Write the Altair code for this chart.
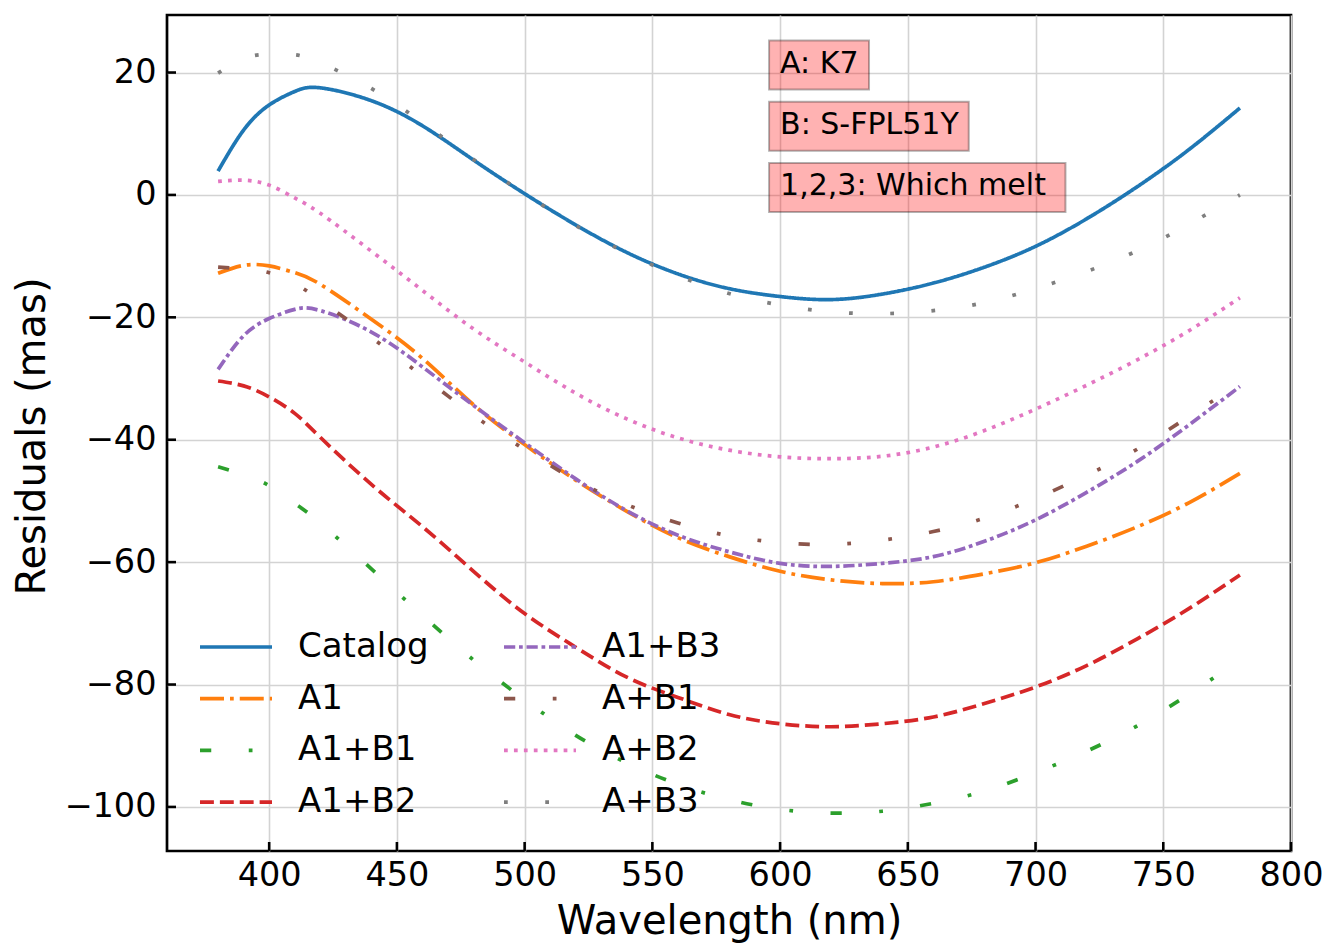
import altair as alt
import pandas as pd

# ---------------- data ----------------
wavelength = [380, 390, 400, 410, 420, 440, 460, 480, 500, 520, 540, 560,
              580, 600, 620, 640, 660, 680, 700, 720, 740, 760, 780]

catalog = [3.9, 10.6, 14.7, 16.9, 17.5, 15.4, 11.3, 5.7, 0.2, -4.9, -9.4, -12.9,
           -15.3, -16.6, -17.1, -16.2, -14.4, -11.8, -8.4, -3.9, 1.4, 7.4, 14.2]
a1 = [-12.8, -11.5, -11.6, -12.7, -14.6, -20.3, -26.7, -34.3, -40.8, -46.6, -51.7, -56.0,
      -59.1, -61.5, -62.9, -63.5, -63.2, -61.9, -60.1, -57.4, -54.2, -50.3, -45.5]
a1_b1 = [-44.4, -45.7, -47.5, -50.4, -53.6, -61.1, -68.7, -76.0, -82.5, -88.3, -92.8, -96.3,
         -98.8, -100.4, -101.0, -100.7, -99.4, -97.4, -94.4, -90.9, -86.7, -81.6, -76.0]
a1_b2 = [-30.4, -31.2, -33.0, -35.7, -39.6, -47.3, -54.2, -61.5, -68.4, -73.9, -78.8, -82.1,
         -84.9, -86.4, -86.9, -86.4, -85.3, -83.1, -80.4, -76.9, -72.5, -67.6, -62.1]
a1_b3 = [-28.5, -23.0, -20.2, -18.7, -18.9, -22.4, -28.1, -34.4, -40.5, -46.4, -51.6, -55.6,
         -58.3, -60.2, -60.7, -60.2, -59.1, -56.6, -53.1, -48.6, -43.5, -37.6, -31.3]
a_b1 = [-11.8, -12.1, -12.7, -14.5, -17.2, -23.3, -29.6, -36.0, -41.6, -46.6, -50.6, -53.6,
        -55.7, -56.8, -57.1, -56.4, -55.0, -52.8, -49.6, -45.8, -41.5, -36.2, -30.8]
a_b2 = [2.2, 2.4, 1.6, -0.5, -3.0, -9.2, -15.6, -21.9, -27.3, -32.4, -36.6, -39.7,
        -41.7, -42.8, -43.1, -42.7, -41.2, -38.5, -35.0, -31.1, -26.9, -22.2, -16.8]
a_b3 = [19.9, 22.3, 23.0, 22.9, 21.6, 17.4, 11.8, 5.8, 0.2, -5.0, -9.5, -13.2,
        -16.1, -18.0, -19.1, -19.4, -18.9, -17.6, -15.3, -12.5, -9.1, -4.8, 0.0]

series_names = ["Catalog", "A1", "A1+B1", "A1+B2", "A1+B3", "A+B1", "A+B2", "A+B3"]
series_values = [catalog, a1, a1_b1, a1_b2, a1_b3, a_b1, a_b2, a_b3]

x_ticks = [400, 450, 500, 550, 600, 650, 700, 750, 800]
y_ticks = [-100, -80, -60, -40, -20, 0, 20]

ann_x = [600, 600, 600]
ann_y = [20, 10, 0]
ann_text = ["A: K7", "B: S-FPL51Y", "1,2,3: Which melt "]

# ---------------- styles ----------------
colors = ["#1f77b4", "#ff7f0e", "#2ca02c", "#d62728",
          "#9467bd", "#8c564b", "#e377c2", "#7f7f7f"]
S = 3.75  # dash scale (matplotlib scales dashes by line width)
dash_units = [
    [1, 0],                      # solid
    [6.4, 1.6, 1, 1.6],          # dashdot
    [3, 10, 1, 10],              # loosely dashdotted
    [3.7, 1.6],                  # dashed
    [3, 1, 1, 1],                # densely dashdotted
    [3, 10, 1, 10, 1, 10],       # loosely dashdotdotted
    [1, 1.65],                   # dotted
    [1, 10],                     # loosely dotted
]
dashes = [[round(d * S, 2) for d in pat] for pat in dash_units]
dashes[0] = [1, 0]

rows = []
for name, vals in zip(series_names, series_values):
    for w, v in zip(wavelength, vals):
        rows.append({"wavelength": w, "residual": v, "series": name})
df = pd.DataFrame(rows)

W, H = 1124, 836
FONT = "DejaVu Sans"
LW = 3.7

x_scale = alt.Scale(domain=[360, 800], nice=False, zero=False)
y_scale = alt.Scale(domain=[-107.2, 29.4], nice=False, zero=False)

x_axis = alt.Axis(values=x_ticks, title="Wavelength (nm)", titleX=W / 2,
                  titleY=82, titleAlign="center", titleBaseline="alphabetic",
                  labelPadding=8, labelFlush=False, labelOverlap=False)
y_axis = alt.Axis(values=y_ticks, title="Residuals (mas)", titleX=-123,
                  titleY=421, titleAngle=270, titleAlign="center",
                  titleBaseline="alphabetic", labelPadding=11,
                  labelFlush=False, labelOverlap=False)

legend = alt.Legend(orient="none", legendX=31, legendY=615, columns=2)

lines = alt.Chart(df).mark_line(strokeWidth=LW, interpolate="natural").encode(
    x=alt.X("wavelength:Q", scale=x_scale, axis=x_axis),
    y=alt.Y("residual:Q", scale=y_scale, axis=y_axis),
    color=alt.Color("series:N", title=None,
                    scale=alt.Scale(domain=series_names, range=colors),
                    legend=legend),
    strokeDash=alt.StrokeDash("series:N", title=None,
                              scale=alt.Scale(domain=series_names, range=dashes),
                              legend=legend),
)

# inward ticks
xt = alt.Chart(pd.DataFrame({"wavelength": x_ticks})).mark_rule(
    color="black", strokeWidth=2.6).encode(
    x=alt.X("wavelength:Q", scale=x_scale, axis=x_axis),
    y=alt.value(H), y2=alt.value(H - 9))
yt = alt.Chart(pd.DataFrame({"residual": y_ticks})).mark_rule(
    color="black", strokeWidth=2.6).encode(
    y=alt.Y("residual:Q", scale=y_scale, axis=y_axis),
    x=alt.value(0), x2=alt.value(9))

# annotation boxes + text
char_w = {"A": 0.684, "B": 0.686, "K": 0.656, "7": 0.636, ":": 0.337, " ": 0.318,
          "S": 0.635, "-": 0.361, "F": 0.575, "P": 0.603, "L": 0.557, "5": 0.636,
          "1": 0.636, "Y": 0.611, ",": 0.318, "2": 0.636, "3": 0.636, "W": 0.989,
          "h": 0.634, "i": 0.278, "c": 0.550, "m": 0.974, "e": 0.615, "l": 0.278,
          "t": 0.392}
ANN_FS = 30
ann_df = pd.DataFrame({"wavelength": ann_x, "residual": ann_y, "text": ann_text})
layers = [lines]
for i in range(len(ann_text)):
    tw = sum(char_w.get(c, 0.6) for c in ann_text[i]) * ANN_FS
    box = alt.Chart(ann_df.iloc[[i]]).mark_rect(
        fill="red", fillOpacity=0.3, stroke="black", strokeOpacity=0.3, strokeWidth=2,
        xOffset=-11, x2Offset=tw + 10, yOffset=-32, y2Offset=17).encode(
        x=alt.X("wavelength:Q", scale=x_scale, axis=x_axis), x2="wavelength",
        y=alt.Y("residual:Q", scale=y_scale, axis=y_axis), y2="residual")
    layers.append(box)
texts = alt.Chart(ann_df).mark_text(
    align="left", baseline="alphabetic", fontSize=ANN_FS, font=FONT, color="black").encode(
    x=alt.X("wavelength:Q", scale=x_scale, axis=x_axis),
    y=alt.Y("residual:Q", scale=y_scale, axis=y_axis),
    text="text:N")
layers += [texts, xt, yt]

chart = alt.layer(*layers).properties(
    width=W, height=H,
    autosize="none",
    padding={"left": 159, "top": 7, "right": 32, "bottom": 93},
).configure(font=FONT).configure_view(
    stroke="black", strokeWidth=2.7
).configure_axis(
    domain=False, ticks=False, tickSize=0, grid=True, gridColor="#d3d3d3",
    gridWidth=1.6, labelFont=FONT, labelFontSize=33.5, labelColor="black",
    titleFont=FONT, titleFontSize=40, titleFontWeight="normal", titleColor="black",
).configure_legend(
    symbolType="stroke", symbolSize=5184, symbolStrokeWidth=LW,
    labelFont=FONT, labelFontSize=34, labelColor="black", labelOffset=24,
    clipHeight=34, rowPadding=17.7, columnPadding=73, padding=0, labelLimit=0,
)

chart.save("out.html", embed_options={"renderer": "svg", "actions": False})
